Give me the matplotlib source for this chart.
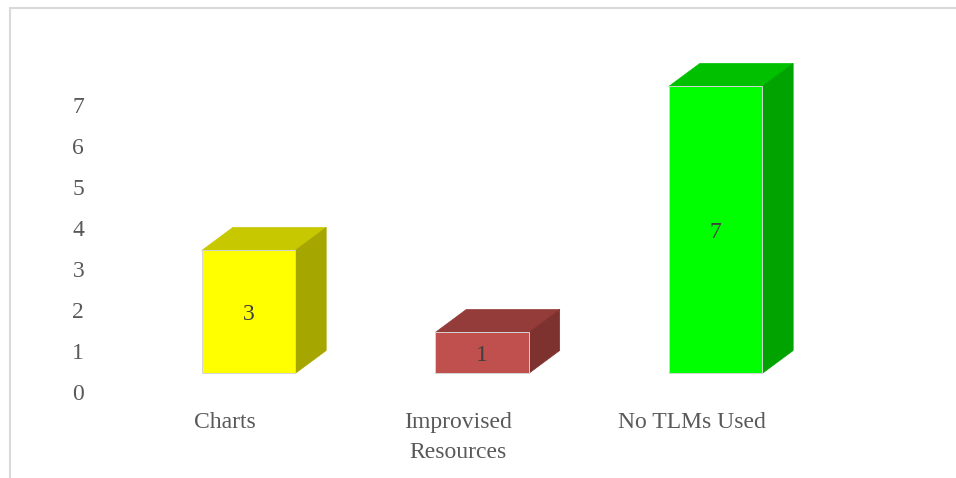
import matplotlib
matplotlib.use('Agg')
import matplotlib.pyplot as plt
from matplotlib.patches import Polygon, Rectangle
from matplotlib.transforms import ScaledTranslation, IdentityTransform

categories = ['Charts', 'Improvised\nResources', 'No TLMs Used']
values = [3, 1, 7]
front_colors = ['#FFFF00', '#C0504D', '#00FF00']
top_colors = ['#C8C800', '#943C3A', '#00C000']
side_colors = ['#A6A600', '#7E3230', '#00A300']
yticks = list(range(8))

TXT = '#595959'
FONT = 'Liberation Serif'

fig = plt.figure(figsize=(9.56, 4.78), dpi=100)
ax = fig.add_axes([0.1127, 0.1789, 0.7327, 0.6862])
ax.set_xlim(-0.5, 2.5)
ax.set_ylim(0, 8)
for s in ax.spines.values():
    s.set_visible(False)
ax.set_yticks(yticks)
ax.set_xticks(range(len(categories)))
ax.set_xticklabels(categories, linespacing=1.55)
ax.tick_params(axis='y', length=0, pad=17, labelsize=17, labelcolor=TXT)
ax.tick_params(axis='x', length=0, pad=14, labelsize=17, labelcolor=TXT)
for lab in ax.get_xticklabels() + ax.get_yticklabels():
    lab.set_fontfamily(FONT)

# front faces sit a bit right/up of the category axis, depth goes up-right
front_dx, front_dy = 24, 19      # px
depth_dx, depth_dy = 31, 23      # px
shift = ScaledTranslation(front_dx / fig.dpi, front_dy / fig.dpi, fig.dpi_scale_trans)

x = list(range(len(categories)))
bars = ax.bar(x, values, width=0.4, color=front_colors, edgecolor='#d4d4d4',
              linewidth=0.7, transform=ax.transData + shift, clip_on=False, zorder=3)

for bar, tc, sc in zip(bars, top_colors, side_colors):
    (x0, y0), (x1, y1) = (ax.transData + shift).transform(
        [(bar.get_x(), 0), (bar.get_x() + bar.get_width(), bar.get_height())])
    top = [(x0, y1), (x1, y1), (x1 + depth_dx, y1 + depth_dy), (x0 + depth_dx, y1 + depth_dy)]
    side = [(x1, y0), (x1 + depth_dx, y0 + depth_dy), (x1 + depth_dx, y1 + depth_dy), (x1, y1)]
    for pts, c in ((top, tc), (side, sc)):
        ax.add_patch(Polygon(pts, closed=True, facecolor=c, edgecolor=c,
                             linewidth=0.5, transform=IdentityTransform(),
                             clip_on=False, zorder=2))

for xi, v in zip(x, values):
    ax.text(xi, v / 2, str(v), transform=ax.transData + shift, ha='center', va='center_baseline',
            fontsize=17, color='#404040', family=FONT, zorder=4)

# light chart-area frame (runs off the right and bottom edges)
fig.patches.append(Rectangle((9.5 / 956, -0.1), 1.2, 1.1 - 8.5 / 478, fill=False,
                             edgecolor='#d9d9d9', linewidth=1.5,
                             transform=fig.transFigure, figure=fig))

fig.savefig('out.png', dpi=100)
